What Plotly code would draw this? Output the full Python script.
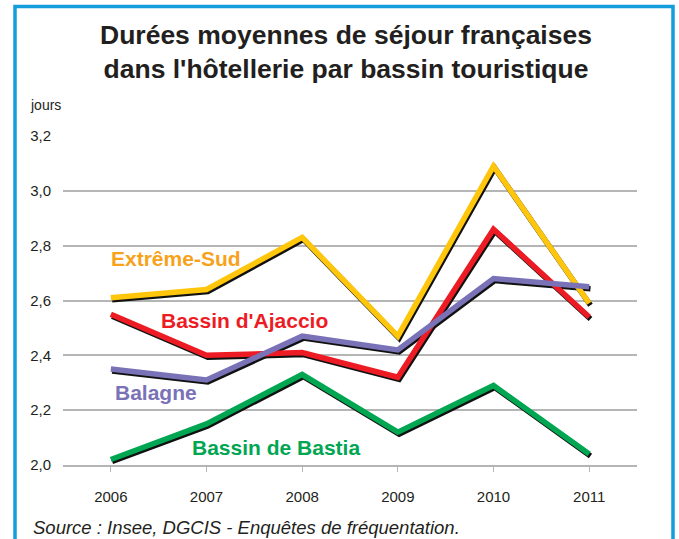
import plotly.graph_objects as go

years = [2006, 2007, 2008, 2009, 2010, 2011]
extreme_sud = [2.61, 2.64, 2.83, 2.47, 3.09, 2.59]
ajaccio = [2.55, 2.40, 2.41, 2.32, 2.86, 2.54]
balagne = [2.35, 2.31, 2.47, 2.42, 2.68, 2.65]
bastia = [2.02, 2.15, 2.33, 2.12, 2.29, 2.04]
y_ticks = [2.0, 2.2, 2.4, 2.6, 2.8, 3.0, 3.2]

series = [
    ("Extrême-Sud", extreme_sud, "#ffc60b", "#f7a21b"),
    ("Bassin d'Ajaccio", ajaccio, "#ed1c24", "#ed1c24"),
    ("Balagne", balagne, "#7a72b7", "#7a72b7"),
    ("Bassin de Bastia", bastia, "#00a651", "#00a651"),
]

W, H = 679, 539
L, R = 63, 637
T, B = 136, 465
xr = [2005.5, 2011.5]
yr = [2.0, 3.2]
px_per_year = (R - L) / (xr[1] - xr[0])
px_per_unit = (B - T) / (yr[1] - yr[0])
dx = 1.3 / px_per_year
dy = 2.0 / px_per_unit

fig = go.Figure()
# shadows (shifted overlay axes)
for name, vals, col, lab in series:
    fig.add_trace(go.Scatter(x=years, y=vals, mode="lines", xaxis="x2", yaxis="y2",
                             line=dict(color="#111111", width=5.5), cliponaxis=False,
                             hoverinfo="skip", showlegend=False))
for name, vals, col, lab in series:
    fig.add_trace(go.Scatter(x=years, y=vals, mode="lines", xaxis="x3", yaxis="y3",
                             line=dict(color=col, width=5.5), cliponaxis=False,
                             name=name, showlegend=False))

font_txt = "Liberation Sans, Arial, sans-serif"
dark = "#231f20"

labels = [
    ("Extrême-Sud", 2005.98, 2.754, "#f7a21b"),
    ("Bassin d'Ajaccio", 2006.5, 2.528, "#ed1c24"),
    ("Balagne", 2006.02, 2.263, "#7a72b7"),
    ("Bassin de Bastia", 2006.83, 2.063, "#00a651"),
]
annotations = []
for text, ax, ay, c in labels:
    annotations.append(dict(x=ax, y=ay, xref="x", yref="y", text="<b>%s</b>" % text,
                            showarrow=False, xanchor="left", yanchor="middle",
                            font=dict(family=font_txt, size=21, color=c)))

def px2x(p):
    return (p - L) / (R - L)

def py2y(p):
    return (B - p) / (B - T)

annotations.append(dict(x=px2x(346), y=py2y(52), xref="paper", yref="paper",
                        text="<b>Durées moyennes de séjour françaises<br>dans l'hôtellerie par bassin touristique</b>",
                        showarrow=False, xanchor="center", yanchor="middle",
                        font=dict(family=font_txt, size=26.5, color=dark)))
annotations.append(dict(x=px2x(28), y=py2y(105), xref="paper", yref="paper", text="jours",
                        showarrow=False, xanchor="left", yanchor="middle",
                        font=dict(family=font_txt, size=14, color=dark)))
annotations.append(dict(x=px2x(31), y=py2y(527), xref="paper", yref="paper",
                        text="<i>Source : Insee, DGCIS - Enquêtes de fréquentation.</i>",
                        showarrow=False, xanchor="left", yanchor="middle",
                        font=dict(family=font_txt, size=18.5, color=dark)))

fig.update_layout(
    width=W, height=H,
    margin=dict(l=L, r=W - R, t=T, b=H - B),
    paper_bgcolor="white", plot_bgcolor="white",
    separators=", ",
    showlegend=False,
    font=dict(family=font_txt, color=dark),
    xaxis=dict(range=xr, tickvals=years, ticktext=[str(y) for y in years],
               showgrid=False, zeroline=False, showline=True, linecolor="#b5b5b5", linewidth=1.5,
               ticks="outside", ticklen=5, tickcolor="#b5b5b5", tickwidth=1,
               tickfont=dict(size=15, color=dark), ticklabelstandoff=12),
    yaxis=dict(range=yr, tickvals=y_ticks, tickformat=".1f", showgrid=True,
               gridcolor="#b5b5b5", gridwidth=1.5, zeroline=False, showline=False,
               tickfont=dict(size=15, color=dark), ticklabelstandoff=11),
    xaxis2=dict(range=[xr[0] - dx, xr[1] - dx], overlaying="x", visible=False),
    yaxis2=dict(range=[yr[0] + dy, yr[1] + dy], overlaying="y", visible=False),
    xaxis3=dict(range=xr, overlaying="x", visible=False),
    yaxis3=dict(range=yr, overlaying="y", visible=False),
    annotations=annotations,
    shapes=[dict(type="rect", xref="paper", yref="paper",
                 x0=px2x(15), x1=px2x(673), y0=py2y(580), y1=py2y(6.5),
                 line=dict(color="#139ddc", width=3.5), fillcolor="rgba(0,0,0,0)", layer="below")],
)

fig.write_html("out.html", config={"displayModeBar": False},
               post_script="document.body.style.margin='0';document.body.style.overflow='hidden';")
